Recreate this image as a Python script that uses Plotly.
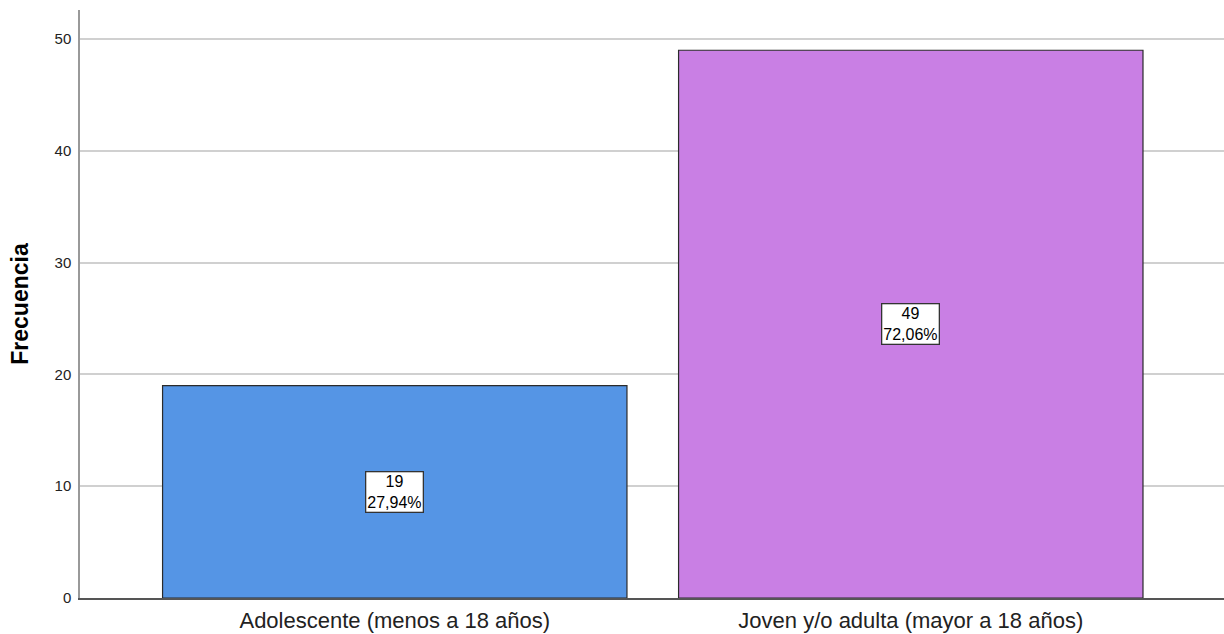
import plotly.graph_objects as go

categories = ["Adolescente (menos a 18 años)", "Joven y/o adulta (mayor a 18 años)"]
frequencies = [19, 49]
percent_labels = ["27,94%", "72,06%"]
bar_colors = ["#5595e5", "#c97fe4"]

fig = go.Figure()
fig.add_trace(go.Bar(
    x=categories, y=frequencies, width=0.9,
    marker=dict(color=bar_colors, line=dict(color="#2b2b2b", width=1.2)),
    hoverinfo="skip",
))

for c, v, p in zip(categories, frequencies, percent_labels):
    fig.add_annotation(
        x=c, y=v / 2, xref="x", yref="y",
        text=f"{v}<br>{p}", showarrow=False,
        font=dict(family="Liberation Sans, Arial", size=16, color="#000"),
        bgcolor="white", bordercolor="#333", borderwidth=1.3, borderpad=1,
    )

fig.update_layout(
    width=1224, height=634,
    margin=dict(l=80, r=0, t=10, b=36),
    paper_bgcolor="white", plot_bgcolor="white",
    showlegend=False,
    bargap=0.1,
    font=dict(family="Liberation Sans, Arial", color="#000"),
)
fig.update_xaxes(
    type="category", range=[-0.61, 1.607],
    showline=True, linecolor="#555", linewidth=1.5,
    showgrid=False, ticks="", ticklabelstandoff=2,
    tickfont=dict(size=22, color="#222"),
)
fig.update_yaxes(
    range=[0, 52.6], tickvals=[0, 10, 20, 30, 40, 50],
    showline=True, linecolor="#999", linewidth=1.5,
    showgrid=True, gridcolor="#d0d0d0", gridwidth=1.5,
    zeroline=False, ticks="", ticklabelstandoff=4,
    tickfont=dict(size=15, color="#222"),
    title=dict(text="<b>Frecuencia</b>", font=dict(size=23, color="#000"), standoff=20),
)

fig.write_html("out.html")
